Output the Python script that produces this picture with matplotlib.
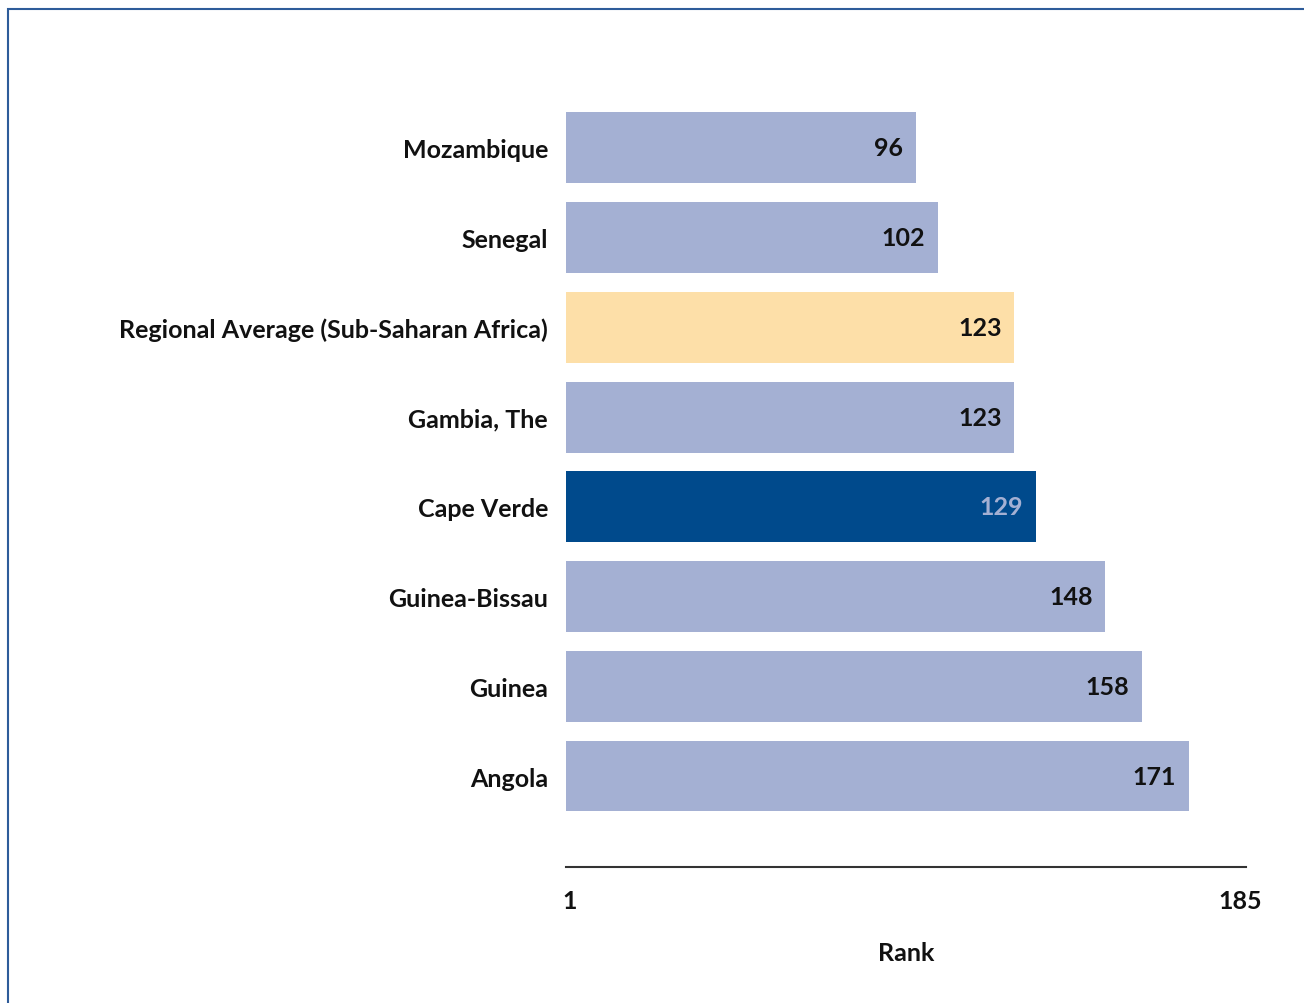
import matplotlib.pyplot as plt
from matplotlib.patches import Rectangle

countries = ["Mozambique", "Senegal", "Regional Average (Sub-Saharan Africa)",
             "Gambia, The", "Cape Verde", "Guinea-Bissau", "Guinea", "Angola"]
ranks = [96, 102, 123, 123, 129, 148, 158, 171]
bar_colors = ["#a4b0d3", "#a4b0d3", "#fddfa8", "#a4b0d3", "#004a8c",
              "#a4b0d3", "#a4b0d3", "#a4b0d3"]
label_colors = ["#111111", "#111111", "#111111", "#111111", "#a4b0d3",
                "#111111", "#111111", "#111111"]
tick_values = [1, 185]

plt.rcParams['font.family'] = ['Lato', 'DejaVu Sans']
FS = 18

fig = plt.figure(figsize=(13.04, 10.04), dpi=100)

# blue frame around the chart (only top/left visible)
fig.patches.append(Rectangle((8 / 1304, -0.05), 1.2, 1 - 10 / 1004 + 0.05,
                             transform=fig.transFigure, fill=False,
                             edgecolor="#2e5c9a", linewidth=1.5))

ax = fig.add_axes([566 / 1304, 1 - 868 / 1004, 680 / 1304, 764 / 1004])

n = len(countries)
ypos = [n - 1 - i for i in range(n)]
ax.barh(ypos, ranks, height=0.79, color=bar_colors, left=0)

for y, v, c in zip(ypos, ranks, label_colors):
    ax.text(v - 3.5, y, str(v), ha="right", va="center", fontsize=FS,
            fontweight="bold", color=c)

ax.set_xlim(0, 186.6)
ax.set_ylim(-1.014, n - 0.5)
ax.set_yticks(ypos)
ax.set_yticklabels(countries, fontsize=FS, fontweight="bold", color="#111111")
ax.tick_params(axis="y", length=0, pad=13)
ax.set_xticks(tick_values)
ax.set_xticklabels([str(t) for t in tick_values], fontsize=FS,
                   fontweight="bold", color="#111111")
ax.tick_params(axis="x", length=0, pad=16)
ax.set_xlabel("Rank", fontsize=FS, fontweight="bold", color="#111111", labelpad=21)

for s in ["top", "right", "left"]:
    ax.spines[s].set_visible(False)
ax.spines["bottom"].set_color("#333333")
ax.spines["bottom"].set_linewidth(1.5)

fig.savefig("out.png", dpi=100)
